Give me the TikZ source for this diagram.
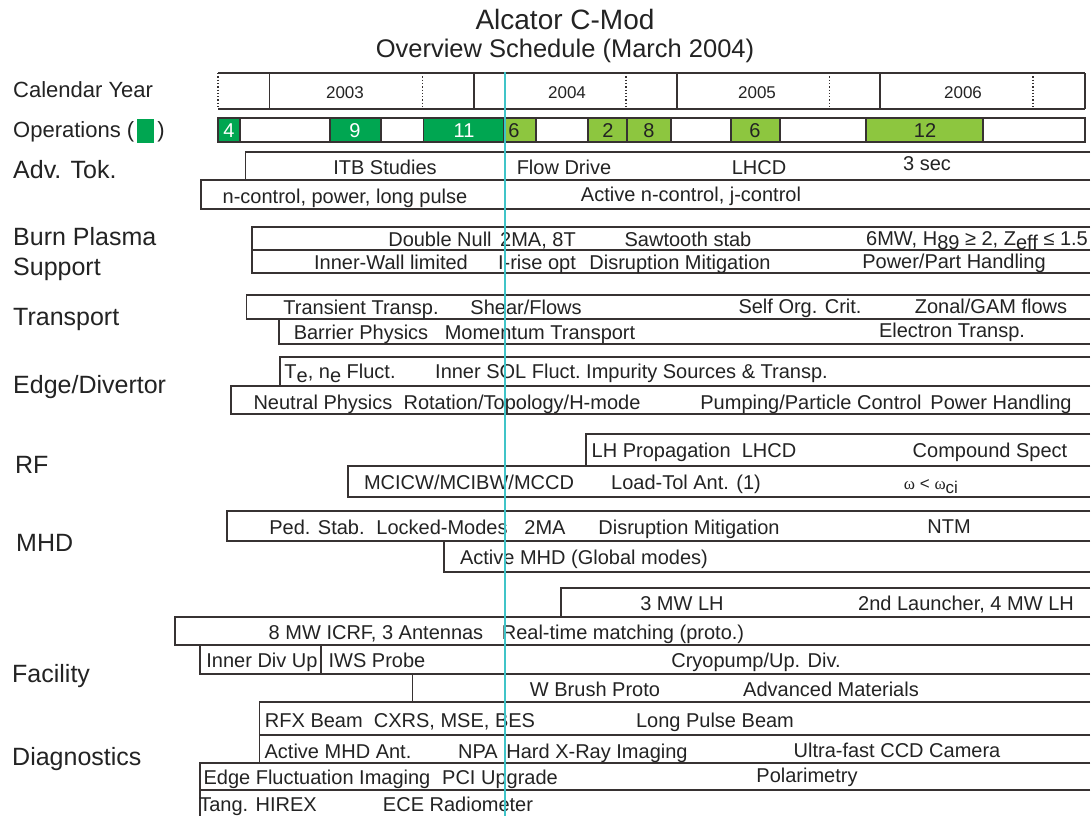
\documentclass[tikz,border=0pt]{standalone}
\usepackage{fontspec}
\setmainfont{Liberation Sans}
\newfontfamily\grkfont{Liberation Serif}
\definecolor{linec}{RGB}{55,50,50}
\definecolor{txtc}{RGB}{35,35,35}
\definecolor{dkgreen}{RGB}{0,166,81}
\definecolor{ltgreen}{RGB}{141,198,63}
\definecolor{cyanl}{RGB}{64,196,200}
\newcommand\schedbar[3]{\draw[barline] (1090,#2) -- (#1,#2) -- (#1,#3) -- (1090,#3);}
\newcommand\lowr[1]{\raisebox{-4pt}{#1}}
\begin{document}
\begin{tikzpicture}[x=1pt,y=-1pt,
  barline/.style={draw=linec,line width=1.3pt},
  lbl/.style={inner sep=0pt,text=txtc,font=\fontsize{20}{24}\selectfont,text height=14.3pt,text depth=0pt,anchor=center},
  yearlbl/.style={lbl,font=\fontsize{17}{20}\selectfont,text height=12.2pt},
  opslbl/.style={lbl,font=\fontsize{20}{24}\selectfont},
  cat/.style={inner sep=0pt,text=txtc,font=\fontsize{25}{30}\selectfont,text height=17.9pt,text depth=0pt,anchor=west},
  toplbl/.style={cat,font=\fontsize{22}{26}\selectfont,text height=15.8pt},
  opsbox/.style={draw=linec,line width=1.3pt},
  dotv/.style={draw=linec,line width=1.3pt,dotted},
]
\fill[white] (0,0) rectangle (1092,815);
\useasboundingbox (0,0) rectangle (1092,815);

% title
\node[inner sep=0pt,text=txtc,font=\fontsize{28}{32}\selectfont,text height=20pt,text depth=0pt] (title) at (565,19) {Alcator C-Mod};
\node[inner sep=0pt,text=txtc,font=\fontsize{25.5}{30}\selectfont,text height=18.3pt,text depth=0pt] (subtitle) at (565,48) {Overview Schedule (March 2004)};

% left labels
\node[toplbl] (calyear) at (13,90) {Calendar Year};
\node[toplbl] (opslabel) at (13,130) {Operations (\hspace{3pt}\textcolor{dkgreen}{\rule[-5pt]{17pt}{24pt}}\hspace{3pt})};
\node[cat] (advtok) at (13,170) {Adv. Tok.};
\node[cat] (burn1) at (13,237) {Burn Plasma};
\node[cat] (burn2) at (13,267) {Support};
\node[cat] (transport) at (13,317) {Transport};
\node[cat] (edge) at (13,385) {Edge/Divertor};
\node[cat] (rf) at (15,465) {RF};
\node[cat] (mhd) at (16,543) {MHD};
\node[cat] (facility) at (12,674) {Facility};
\node[cat] (diag) at (12,757) {Diagnostics};

% calendar row
\draw[barline] (218,73) -- (1085,73);
\draw[barline] (218,109) -- (1085,109);
\foreach \xx in {269.5,474,677,880,1085} \draw[barline] (\xx,73) -- (\xx,109);
\foreach \xx in {218,422.5,626,829.5,1033} \draw[dotv] (\xx,73) -- (\xx,109);
\node[yearlbl] (y2003) at (345,92) {2003};
\node[yearlbl] (y2004) at (567,92) {2004};
\node[yearlbl] (y2005) at (757,92) {2005};
\node[yearlbl] (y2006) at (963,92) {2006};

% operations row
\draw[opsbox,fill=white] (218,118) rectangle (1085,142);
\draw[opsbox,fill=dkgreen] (218,118) rectangle (240,142);
\draw[opsbox,fill=dkgreen] (330,118) rectangle (381,142);
\draw[opsbox,fill=dkgreen] (423.5,118) rectangle (504,142);
\draw[opsbox,fill=ltgreen] (504,118) rectangle (536,142);
\draw[opsbox,fill=ltgreen] (588,118) rectangle (627,142);
\draw[opsbox,fill=ltgreen] (627,118) rectangle (671,142);
\draw[opsbox,fill=ltgreen] (731,118) rectangle (780,142);
\draw[opsbox,fill=ltgreen] (866,118) rectangle (983,142);
\node[opslbl,text=white] (o4) at (229,130) {4};
\node[opslbl,text=white] (o9) at (355,130) {9};
\node[opslbl,text=white] (o11) at (464,130) {11};
\node[opslbl] (o6a) at (514,130) {6};
\node[opslbl] (o2) at (608,130) {2};
\node[opslbl] (o8) at (649,130) {8};
\node[opslbl] (o6b) at (755,130) {6};
\node[opslbl] (o12) at (925,130) {12};

% Adv. Tok.
\schedbar{245.5}{152}{180}
\schedbar{201}{180}{209}
\node[lbl] (itb) at (385,167) {ITB Studies};
\node[lbl] (flow) at (564,167) {Flow Drive};
\node[lbl] (lhcd1) at (759,167) {LHCD};
\node[lbl] (sec3) at (927,163) {3 sec};
\node[lbl] (ncontrol) at (345,196) {n-control, power, long pulse};
\node[lbl] (activen) at (691,194) {Active n-control, j-control};

% Burn Plasma Support
\schedbar{252}{227}{250}
\schedbar{252}{250}{273}
\node[lbl] (dnull) at (440,239) {Double Null};
\node[lbl] (ma8t) at (538,239) {2MA, 8T};
\node[lbl] (saw) at (688,239) {Sawtooth stab};
\node[lbl] (sixmw) at (977,238) {6MW, H\lowr{89} ≥ 2, Z\lowr{eff} ≤ 1.5};
\node[lbl] (iwl) at (391,262) {Inner-Wall limited};
\node[lbl] (irise) at (537,262) {I-rise opt};
\node[lbl] (dm1) at (680,262) {Disruption Mitigation};
\node[lbl] (pph) at (954,261) {Power/Part Handling};

% Transport
\schedbar{246.5}{295}{319}
\schedbar{279}{319}{344}
\node[lbl] (trans) at (361,307) {Transient Transp.};
\node[lbl] (shear) at (526,307) {Shear/Flows};
\node[lbl] (soc) at (800,306) {Self Org. Crit.};
\node[lbl] (zonal) at (991,306) {Zonal/GAM flows};
\node[lbl] (barrier) at (361,332) {Barrier Physics};
\node[lbl] (momentum) at (540,332) {Momentum Transport};
\node[lbl] (electron) at (952,330) {Electron Transp.};

% Edge/Divertor
\schedbar{280}{357}{386}
\schedbar{231}{386}{414}
\node[lbl] (tene) at (340,371) {T\lowr{e}, n\lowr{e} Fluct.};
\node[lbl] (innersol) at (508,371) {Inner SOL Fluct.};
\node[lbl] (impurity) at (707,371) {Impurity Sources \& Transp.};
\node[lbl] (neutral) at (323,402) {Neutral Physics};
\node[lbl] (rotation) at (522,402) {Rotation/Topology/H-mode};
\node[lbl] (pumping) at (811,402) {Pumping/Particle Control};
\node[lbl] (powerh) at (1001,402) {Power Handling};

% RF
\schedbar{586}{434}{466}
\schedbar{348}{466}{497}
\node[lbl] (lhprop) at (694,450) {LH Propagation\ \ LHCD};
\node[lbl] (compound) at (990,450) {Compound Spect};
\node[lbl] (mcicw) at (469,482) {MCICW/MCIBW/MCCD};
\node[lbl] (loadtol) at (686,482) {Load-Tol Ant. (1)};
\node[lbl,font=\fontsize{17}{20}\selectfont] (omega) at (931,482) {{\grkfont ω} < {\grkfont ω}\lowr{ci}};

% MHD
\schedbar{227}{511}{541}
\schedbar{444}{541}{572}
\node[lbl] (ped) at (317,527) {Ped. Stab.};
\node[lbl] (locked) at (442,527) {Locked-Modes};
\node[lbl] (ma2) at (545,527) {2MA};
\node[lbl] (dm2) at (689,527) {Disruption Mitigation};
\node[lbl] (ntm) at (949,526) {NTM};
\node[lbl] (activemhd) at (584,557) {Active MHD (Global modes)};

% Facility
\schedbar{561}{588}{617}
\schedbar{175}{617}{645}
\schedbar{200}{645}{674}
\draw[barline] (321,645) -- (321,674);
\schedbar{412.5}{674}{702}
\node[lbl] (mw3) at (682,603) {3 MW LH};
\node[lbl] (launcher) at (966,603) {2nd Launcher, 4 MW LH};
\node[lbl] (icrf) at (376,632) {8 MW ICRF, 3 Antennas};
\node[lbl] (realtime) at (623,632) {Real-time matching (proto.)};
\node[lbl] (innerdiv) at (262,660) {Inner Div Up};
\node[lbl] (iws) at (377,660) {IWS Probe};
\node[lbl] (cryo) at (756,660) {Cryopump/Up. Div.};
\node[lbl] (wbrush) at (595,689) {W Brush Proto};
\node[lbl] (advmat) at (831,689) {Advanced Materials};

% Diagnostics
\schedbar{259.5}{702}{735}
\schedbar{259.5}{735}{763}
\schedbar{200}{763}{790}
\draw[barline] (1090,790) -- (200,790) -- (200,820);
\node[lbl] (rfx) at (400,720) {RFX Beam\ \ CXRS, MSE, BES};
\node[lbl] (longpulse) at (715,720) {Long Pulse Beam};
\node[lbl] (activeant) at (338,751) {Active MHD Ant.};
\node[lbl] (npa) at (478,751) {NPA};
\node[lbl] (hxr) at (597,751) {Hard X-Ray Imaging};
\node[lbl] (ultrafast) at (897,750) {Ultra-fast CCD Camera};
\node[lbl] (efi) at (317,777) {Edge Fluctuation Imaging};
\node[lbl] (pci) at (500,777) {PCI Upgrade};
\node[lbl] (polar) at (807,775) {Polarimetry};
\node[lbl] (hirex) at (258,804) {Tang. HIREX};
\node[lbl] (ece) at (458,804) {ECE Radiometer};

% current-date line
\draw[cyanl,line width=2.2pt] (505,72) -- (505,820);
\end{tikzpicture}
\end{document}
